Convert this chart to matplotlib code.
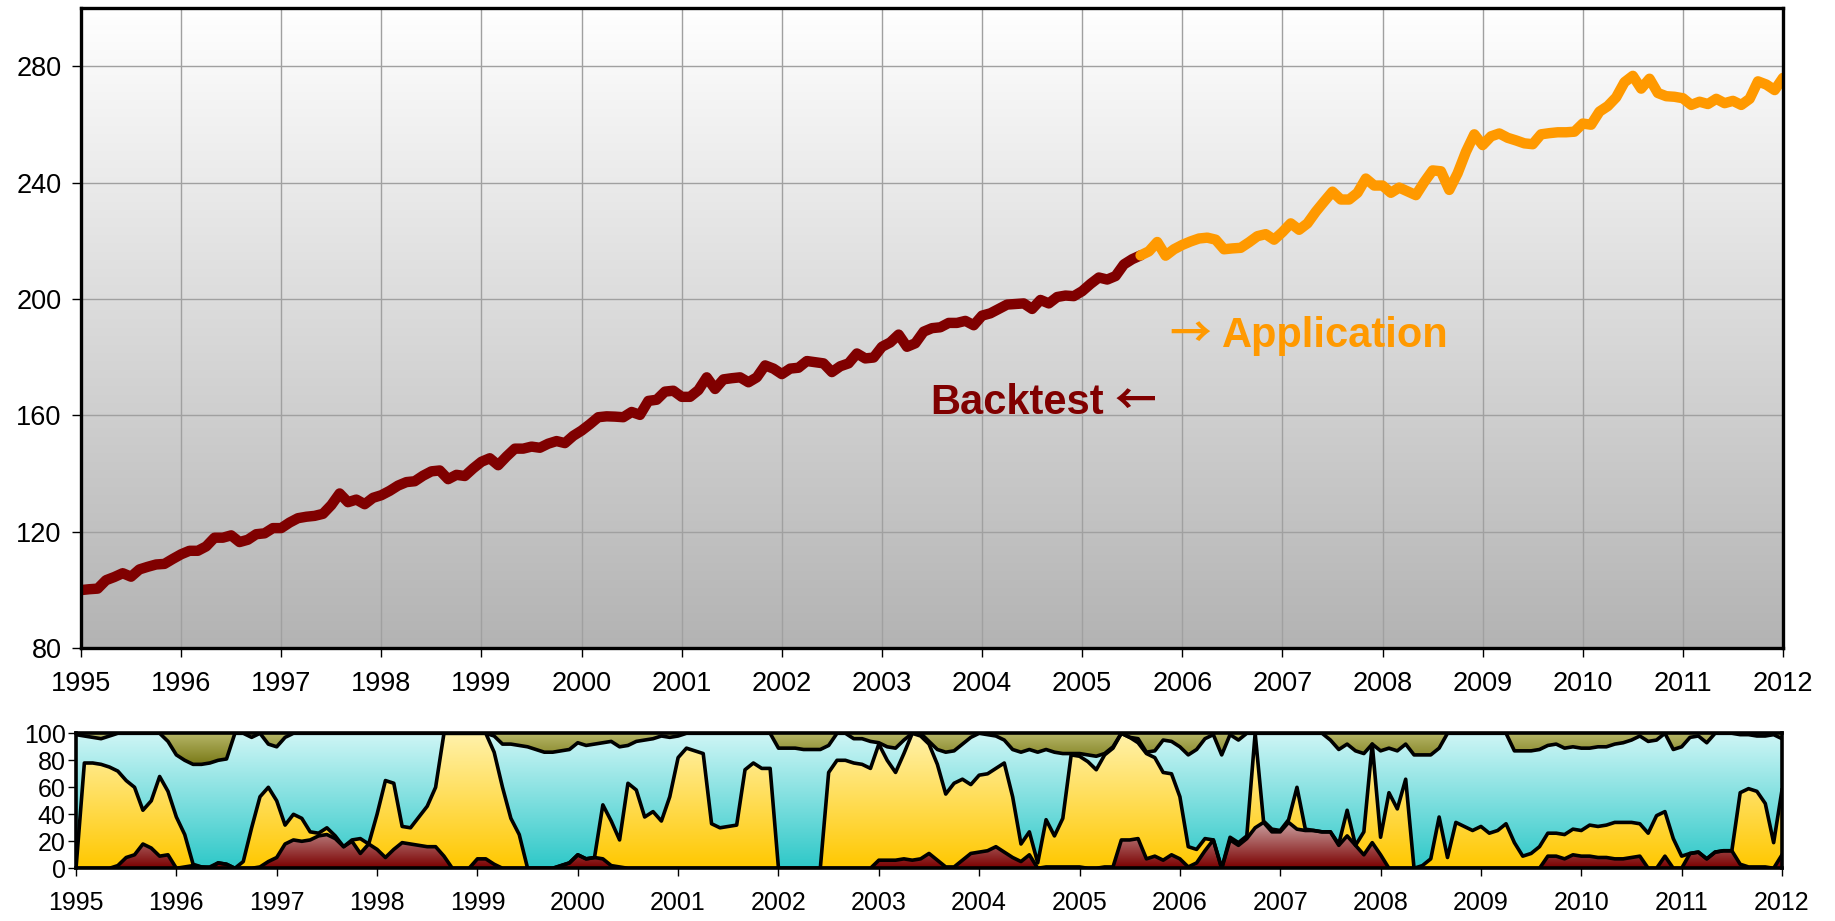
import numpy as np
import matplotlib
matplotlib.use("Agg")
import matplotlib.pyplot as plt
from matplotlib.colors import LinearSegmentedColormap

plt.rcParams['font.family'] = ['Liberation Sans', 'DejaVu Sans']

# monthly data, Jan 1995 .. Jan 2012
start_year = 1995
backtest_end = 127  # month where the application period starts

index_values = [
    100.0, 100.3, 100.5, 103.4, 104.5, 105.8, 104.6, 107.1, 108.0, 108.8, 109.0, 110.7,
    112.3, 113.5, 113.5, 115.0, 118.0, 118.0, 118.8, 116.5, 117.3, 119.2, 119.5, 121.3,
    121.3, 123.2, 124.7, 125.2, 125.5, 126.2, 129.2, 133.2, 130.2, 131.1, 129.5, 131.7,
    132.6, 134.1, 135.9, 137.1, 137.4, 139.3, 140.8, 141.1, 138.1, 139.6, 139.2, 141.8,
    144.1, 145.3, 142.9, 145.9, 148.6, 148.6, 149.3, 148.9, 150.3, 151.2, 150.5, 153.0,
    154.8, 157.0, 159.4, 159.7, 159.6, 159.4, 161.2, 160.2, 165.0, 165.4, 168.2, 168.5,
    166.4, 166.4, 168.7, 173.1, 169.1, 172.4, 172.8, 173.1, 171.4, 173.1, 177.2, 176.1,
    174.2, 176.1, 176.4, 178.7, 178.3, 177.9, 174.9, 176.9, 177.9, 181.3, 179.6, 179.9,
    183.6, 185.1, 187.8, 183.6, 184.8, 188.8, 190.0, 190.3, 191.8, 191.8, 192.5, 191.0,
    194.3, 195.1, 196.6, 198.1, 198.3, 198.5, 196.6, 199.7, 198.5, 200.7, 201.2, 201.0,
    202.7, 205.2, 207.4, 206.7, 207.9, 211.9, 213.7, 215.0, 216.4, 219.6, 214.9, 217.1,
    218.6, 219.8, 220.8, 221.1, 220.4, 217.1, 217.4, 217.6, 219.5, 221.6, 222.3, 220.4,
    223.0, 226.0, 223.8, 226.0, 230.0, 233.5, 236.9, 234.2, 234.2, 236.5, 241.4, 239.0,
    239.0, 236.5, 238.3, 237.0, 235.7, 240.2, 244.2, 243.9, 237.5, 243.2, 250.6, 256.6,
    252.9, 255.9, 256.9, 255.4, 254.5, 253.5, 253.2, 256.6, 257.0, 257.3, 257.3, 257.5,
    260.3, 259.9, 264.4, 266.3, 269.3, 274.5, 276.7, 272.3, 275.7, 270.8, 269.7, 269.5,
    269.0, 266.7, 267.8, 267.0, 268.8, 267.3, 268.1, 266.7, 268.8, 274.8, 273.7, 271.8,
    276.0,
]

# allocation shares in percent (bottom to top)
red_share = [
    0, 0, 0, 0, 0, 2, 8, 10, 18, 15, 9, 10,
    0, 1, 2, 1, 0, 4, 3, 0, 0, 0, 1, 5,
    8, 18, 21, 20, 21, 24, 25, 22, 16, 20, 11, 18,
    14, 8, 14, 19, 18, 17, 16, 16, 9, 0, 0, 0,
    7, 7, 3, 0, 0, 0, 0, 0, 0, 0, 2, 4,
    10, 7, 8, 7, 2, 1, 0, 0, 0, 0, 0, 0,
    0, 0, 0, 0, 0, 0, 0, 0, 0, 0, 0, 0,
    0, 0, 0, 0, 0, 0, 0, 0, 0, 0, 0, 0,
    6, 6, 6, 7, 6, 7, 11, 6, 1, 1, 6, 11,
    12, 13, 16, 12, 8, 5, 10, 0, 1, 1, 1, 1,
    1, 0, 0, 1, 1, 21, 21, 22, 7, 9, 6, 10,
    7, 1, 4, 13, 21, 0, 21, 17, 22, 30, 34, 27,
    27, 34, 29, 28, 28, 27, 27, 17, 24, 17, 10, 19,
    10, 0, 0, 0, 0, 0, 0, 0, 0, 0, 0, 0,
    0, 0, 0, 0, 0, 0, 0, 0, 9, 9, 7, 10,
    9, 9, 8, 8, 7, 7, 8, 9, 0, 0, 9, 0,
    0, 11, 12, 7, 12, 13, 13, 3, 1, 1, 1, 0,
    10,
]
yellow_share = [
    0, 78, 78, 77, 75, 70, 57, 50, 25, 35, 59, 47,
    38, 24, 1, 0, 1, 0, 0, 0, 5, 30, 52, 55,
    42, 14, 19, 17, 6, 2, 5, 2, 0, 1, 11, 0,
    26, 57, 49, 12, 12, 21, 30, 44, 91, 100, 100, 100,
    93, 93, 83, 60, 37, 25, 0, 0, 0, 0, 0, 0,
    0, 0, 0, 40, 33, 20, 63, 58, 38, 42, 35, 53,
    82, 89, 87, 85, 33, 30, 31, 32, 73, 78, 74, 74,
    0, 0, 0, 0, 0, 0, 71, 80, 80, 78, 77, 74,
    86, 74, 65, 78, 94, 91, 81, 71, 54, 62, 60, 51,
    57, 57, 58, 66, 45, 13, 17, 4, 35, 23, 36, 83,
    82, 79, 73, 83, 88, 79, 76, 71, 78, 73, 65, 60,
    46, 15, 10, 9, 0, 0, 2, 2, 2, 70, 1, 2,
    1, 2, 31, 1, 0, 0, 0, 1, 19, 0, 17, 73,
    13, 56, 44, 66, 0, 2, 7, 38, 8, 34, 31, 28,
    31, 26, 28, 33, 19, 9, 11, 16, 17, 17, 18, 19,
    19, 23, 23, 24, 27, 27, 26, 24, 26, 39, 33, 22,
    9, 0, 0, 0, 0, 0, 0, 53, 58, 56, 47, 19,
    48,
]
cyan_share = [
    99, 20, 19, 19, 23, 28, 35, 40, 57, 50, 32, 37,
    46, 55, 74, 76, 77, 76, 78, 100, 95, 67, 47, 32,
    40, 65, 60, 63, 73, 74, 70, 76, 84, 79, 78, 82,
    60, 35, 37, 69, 70, 62, 54, 40, 0, 0, 0, 0,
    0, 0, 12, 32, 55, 66, 90, 88, 86, 86, 85, 84,
    83, 84, 84, 46, 59, 69, 28, 36, 57, 54, 63, 44,
    16, 11, 13, 15, 67, 70, 69, 68, 27, 22, 26, 26,
    89, 89, 89, 88, 88, 88, 20, 20, 20, 18, 19, 20,
    1, 10, 18, 10, 0, 2, 2, 11, 31, 24, 26, 35,
    31, 29, 24, 17, 35, 68, 61, 82, 52, 62, 48, 1,
    2, 5, 10, 1, 1, 0, 0, 3, 1, 5, 24, 24,
    37, 68, 74, 74, 78, 84, 76, 76, 76, 0, 65, 71,
    72, 64, 40, 71, 72, 73, 68, 70, 49, 70, 58, 0,
    64, 33, 43, 26, 84, 82, 77, 51, 92, 66, 69, 72,
    69, 74, 72, 67, 68, 78, 76, 72, 65, 66, 64, 61,
    61, 57, 59, 58, 58, 59, 61, 65, 68, 56, 58, 66,
    81, 86, 86, 86, 88, 87, 87, 43, 40, 41, 50, 80,
    38,
]
olive_share = [
    1, 2, 3, 4, 2, 0, 0, 0, 0, 0, 0, 6,
    16, 20, 23, 23, 22, 20, 19, 0, 0, 3, 0, 8,
    10, 3, 0, 0, 0, 0, 0, 0, 0, 0, 0, 0,
    0, 0, 0, 0, 0, 0, 0, 0, 0, 0, 0, 0,
    0, 0, 2, 8, 8, 9, 10, 12, 14, 14, 13, 12,
    7, 9, 8, 7, 6, 10, 9, 6, 5, 4, 2, 3,
    2, 0, 0, 0, 0, 0, 0, 0, 0, 0, 0, 0,
    11, 11, 11, 12, 12, 12, 9, 0, 0, 4, 4, 6,
    7, 10, 11, 5, 0, 0, 6, 12, 14, 13, 8, 3,
    0, 1, 2, 5, 12, 14, 12, 14, 12, 14, 15, 15,
    15, 16, 17, 15, 10, 0, 3, 4, 14, 13, 5, 6,
    10, 16, 12, 4, 1, 16, 1, 5, 0, 0, 0, 0,
    0, 0, 0, 0, 0, 0, 5, 12, 8, 13, 15, 8,
    13, 11, 13, 8, 16, 16, 16, 11, 0, 0, 0, 0,
    0, 0, 0, 0, 13, 13, 13, 12, 9, 8, 11, 10,
    11, 11, 10, 10, 8, 7, 5, 2, 6, 5, 0, 12,
    10, 3, 2, 7, 0, 0, 0, 1, 1, 2, 2, 1,
    4,
]

t = start_year + np.arange(len(index_values)) / 12.0
vals = np.array(index_values)

fig = plt.figure(figsize=(18.35, 9.21), dpi=100)

# ---- top panel: index line ----
ax = fig.add_axes([0.04414, 0.2961, 0.92752, 0.6952])
grad = np.linspace(0, 1, 256).reshape(-1, 1)
bg = LinearSegmentedColormap.from_list('bg', ['#b3b3b3', '#ffffff'])
ax.imshow(grad, extent=[1995, 2012, 80, 300], origin='lower', aspect='auto',
          cmap=bg, zorder=0)

ax.plot(t[:backtest_end + 1], vals[:backtest_end + 1], color='#800000', lw=7.5,
        solid_joinstyle='round', solid_capstyle='round', zorder=3)
ax.plot(t[backtest_end:], vals[backtest_end:], color='#ff9900', lw=7.5,
        solid_joinstyle='round', solid_capstyle='round', zorder=3)

ax.set_xlim(1995, 2012)
ax.set_ylim(80, 300)
ax.set_xticks(range(1995, 2013))
ax.set_yticks(range(80, 281, 40))
ax.grid(True, color='#a0a0a0', lw=1)
for s in ax.spines.values():
    s.set_linewidth(2.4)
    s.set_zorder(5)
ax.tick_params(axis='both', length=6.5, width=1, labelsize=19.5)
ax.tick_params(axis='x', pad=10)
ax.tick_params(axis='y', pad=7.5)

# labels with arrows
arrow_font = ['Noto Sans CJK JP', 'DejaVu Sans']
ax.text(2005.218, 160.5, 'Backtest', color='#800000', fontsize=30,
        fontweight='bold', ha='right', va='baseline', zorder=4)
ax.text(2005.74, 160.5, '\u2190', color='#800000', fontsize=30,
        family=arrow_font, fontweight='bold', ha='right', va='baseline', zorder=4)
ax.text(2005.87, 183.5, '\u2192', color='#ff9900', fontsize=30,
        family=arrow_font, fontweight='bold', ha='left', va='baseline', zorder=4)
ax.text(2006.396, 183.5, 'Application', color='#ff9900', fontsize=30,
        fontweight='bold', ha='left', va='baseline', zorder=4)

# ---- bottom panel: stacked allocation ----
ax2 = fig.add_axes([0.04142, 0.05722, 0.9297, 0.14658])
b1 = np.array(red_share, dtype=float)
b2 = b1 + np.array(yellow_share)
b3 = b2 + np.array(cyan_share)
b4 = b3 + np.array(olive_share)

cm_red = LinearSegmentedColormap.from_list('r', ['#7a0000', '#caa0a0'])
cm_yel = LinearSegmentedColormap.from_list('y', ['#ffc800', '#fff2ac'])
cm_cya = LinearSegmentedColormap.from_list('c', ['#2ec8c8', '#d0f6f6'])
cm_oli = LinearSegmentedColormap.from_list('o', ['#7a7a18', '#b8b86a'])

layers = [
    (np.zeros_like(b1), b1, cm_red, 0, b1.max()),
    (b1, b2, cm_yel, 0, 100),
    (b2, b3, cm_cya, 0, 100),
    (b3, b4, cm_oli, b3.min(), 100),
]
for lower, upper, cmap, g0, g1 in layers:
    poly = ax2.fill_between(t, lower, upper, facecolor='none', edgecolor='none')
    im = ax2.imshow(grad, extent=[1995, 2012, g0, g1], origin='lower',
                    aspect='auto', cmap=cmap, zorder=1)
    im.set_clip_path(poly.get_paths()[0], transform=ax2.transData)

for edge in (b1, b2, b3):
    ax2.plot(t, edge, color='black', lw=2.6, zorder=3, solid_joinstyle='round')

ax2.set_xlim(1995, 2012)
ax2.set_ylim(0, 100)
ax2.set_xticks(range(1995, 2013))
ax2.set_yticks(range(0, 101, 20))
for s in ax2.spines.values():
    s.set_linewidth(2.6)
    s.set_zorder(5)
ax2.tick_params(axis='both', length=5.5, width=1, labelsize=18)
ax2.tick_params(axis='x', pad=11)
ax2.tick_params(axis='y', pad=2)

plt.savefig('out.png', dpi=100)
